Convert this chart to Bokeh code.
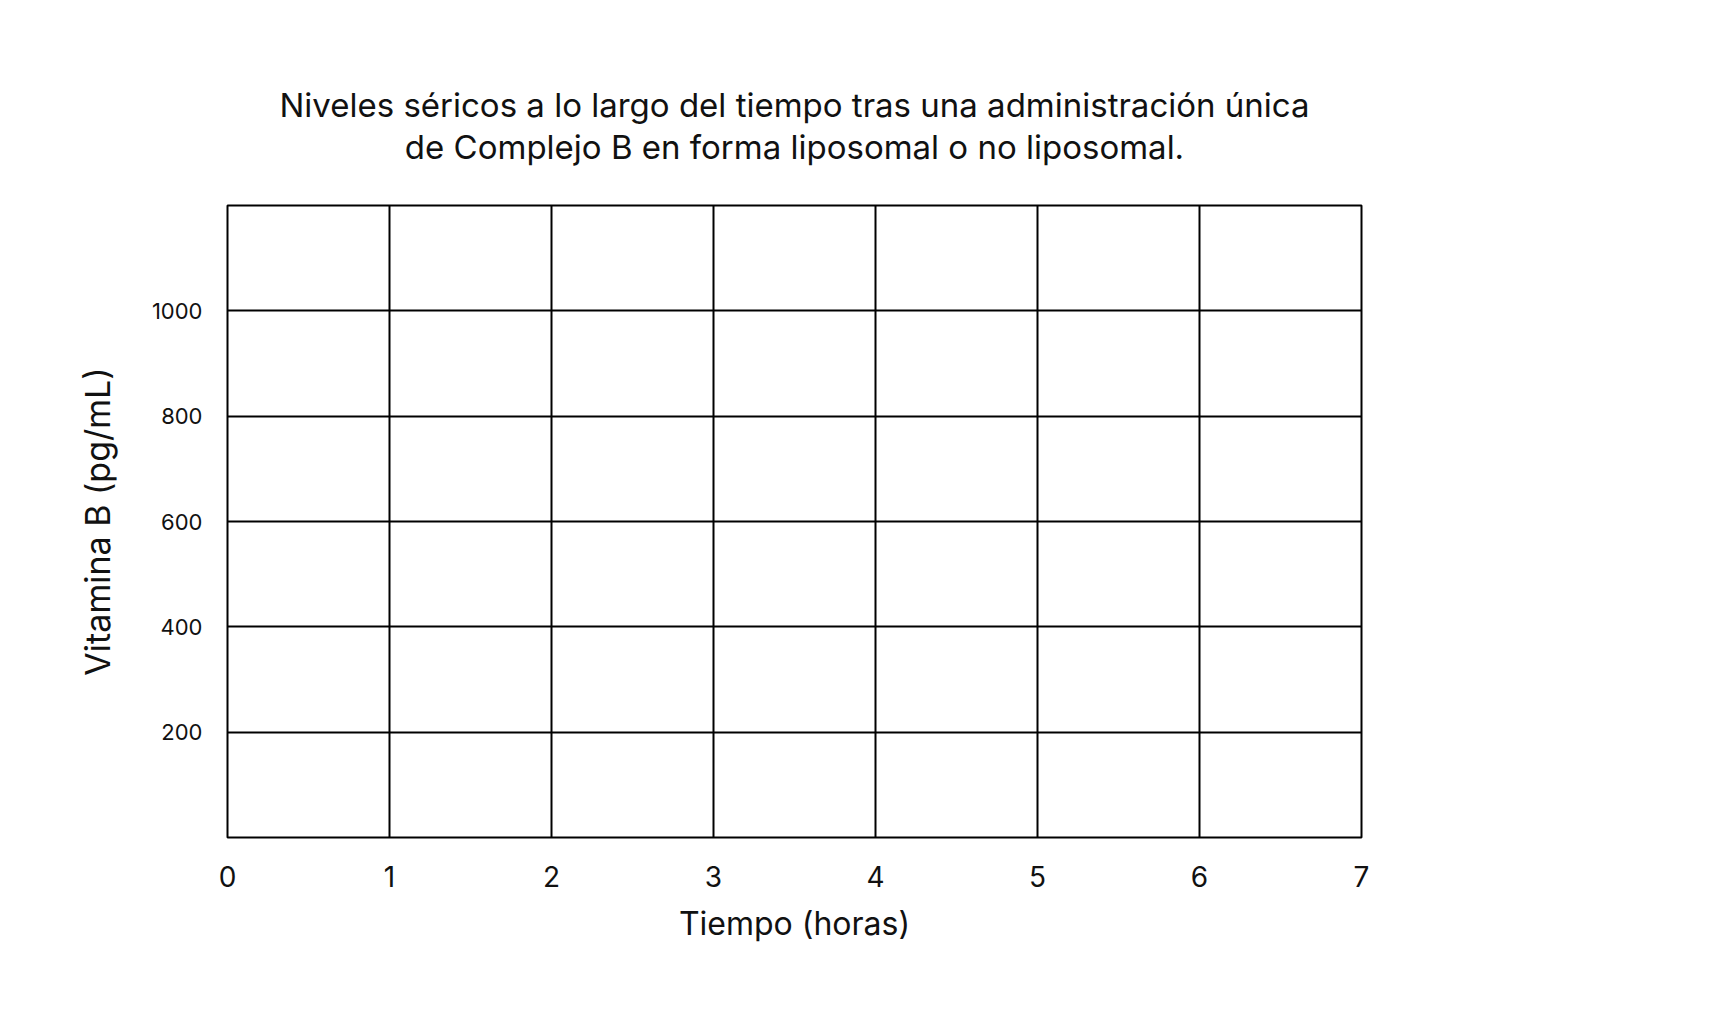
from bokeh.plotting import figure
from bokeh.models import FixedTicker, Range1d, Title
from bokeh.embed import file_html
from bokeh.resources import INLINE

# Tick values (chart has no plotted series)
tiempo_ticks = [0, 1, 2, 3, 4, 5, 6, 7]
vitamina_ticks = [200, 400, 600, 800, 1000]
x_limits = [0, 7]
y_limits = [0, 1200]

titulo_1 = "Niveles séricos a lo largo del tiempo tras una administración única"
titulo_2 = "de Complejo B en forma liposomal o no liposomal."

FONT = "Inter"
INK = "#111111"

p = figure(width=1700, height=1010, output_backend="svg", toolbar_location=None,
           x_range=Range1d(*x_limits), y_range=Range1d(*y_limits),
           min_border_left=227, min_border_right=339, min_border_top=205,
           min_border_bottom=173)

# outermost line of the title
p.title = Title(text=titulo_1, align="center", text_font=FONT, text_font_size="33px",
                text_line_height=1.15, text_font_style="normal", text_color=INK, standoff=0)
# empty spacer between the frame and the title block
p.add_layout(Title(text=" ", align="center", text_font=FONT, text_font_size="10px",
                   text_line_height=1.0, text_color=INK, standoff=25), "above")
# second line of the title
p.add_layout(Title(text=titulo_2, align="center", text_font=FONT, text_font_size="33px",
                   text_line_height=1.15, text_font_style="normal", text_color=INK,
                   standoff=0), "above")

p.outline_line_color = "black"
p.outline_line_width = 2
p.outline_line_alpha = 1

p.xaxis.ticker = FixedTicker(ticks=tiempo_ticks)
p.yaxis.ticker = FixedTicker(ticks=vitamina_ticks)

for ax in (p.xaxis, p.yaxis):
    ax.axis_line_color = None
    ax.major_tick_line_color = None
    ax.minor_tick_line_color = None
    ax.major_label_text_font = FONT
    ax.axis_label_text_font = FONT
    ax.axis_label_text_font_style = "normal"
    ax.axis_label_text_color = INK
    ax.major_label_text_color = INK

p.xaxis.axis_label = "Tiempo (horas)"
p.xaxis.axis_label_text_font_size = "32px"
p.xaxis.major_label_text_font_size = "28px"
p.xaxis.major_label_standoff = 22
p.xaxis.axis_label_standoff = 14

p.yaxis.axis_label = "Vitamina B (pg/mL)"
p.yaxis.axis_label_text_font_size = "34px"
p.yaxis.major_label_text_font_size = "22px"
p.yaxis.major_label_standoff = 19
p.yaxis.axis_label_standoff = 31

p.xgrid.grid_line_color = "black"
p.xgrid.grid_line_width = 2
p.xgrid.grid_line_alpha = 1
p.ygrid.grid_line_color = "black"
p.ygrid.grid_line_width = 2
p.ygrid.grid_line_alpha = 1

open("out.html", "w").write(file_html(p, INLINE))
